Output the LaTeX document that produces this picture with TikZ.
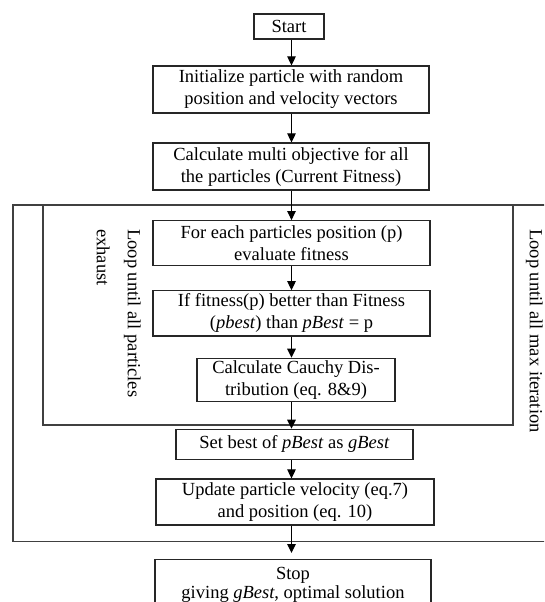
\documentclass[tikz,border=0pt]{standalone}
\usepackage{fontspec}
\setmainfont{Liberation Serif}
\usetikzlibrary{arrows.meta}
\tikzset{
  box/.style={draw=black!85, line width=1.2pt, align=center, inner sep=0pt, font=\fontsize{18.5}{22}\selectfont},
  arr/.style={draw=black, line width=1.1pt, -{Triangle[length=9pt,width=8.5pt]}},
  frame/.style={draw=black!75, line width=1.1pt},
  looplbl/.style={rotate=-90, inner sep=0pt, align=left, font=\fontsize{18.5}{31}\selectfont}
}
\begin{document}
\begin{tikzpicture}[x=1pt,y=-1pt]
\useasboundingbox (0,0) rectangle (544,602);
\clip (0,0) rectangle (544,602);
\coordinate (axis) at (291.5,0);
% loop frames
\draw[frame] (13,205) rectangle (570,541.7);
\draw[frame] (43,205) rectangle (513,425);
% boxes
\node[box, minimum width=70pt, minimum height=25pt] (start) at (289,26.5) {Start};
\node[box, minimum width=276pt, minimum height=47pt] (init) at (291,89.5) {Initialize particle with random\\position and velocity vectors};
\node[box, minimum width=276pt, minimum height=47pt] (calc) at (291,166.5) {Calculate multi objective for all\\the particles (Current Fitness)};
\node[box, minimum width=277pt, minimum height=45pt] (each) at (291.5,243.2) {For each particles position (p)\\evaluate fitness};
\node[box, minimum width=277pt, minimum height=45.3pt] (iff) at (291.5,313.4) {If fitness(p) better than Fitness\\(\textit{pbest}) than \textit{pBest} = p};
\node[box, minimum width=198pt, minimum height=43.4pt] (cauchy) at (296,380) {Calculate Cauchy Dis-\\tribution (eq. 8\&9)};
\node[box, minimum width=237pt, minimum height=30pt] (setb) at (294.5,444.3) {Set best of \textit{pBest} as \textit{gBest}};
\node[box, minimum width=278pt, minimum height=46pt] (upd) at (295,502) {Update particle velocity (eq.7)\\and position (eq. 10)};
\node[box, font=\fontsize{18.5}{19}\selectfont, minimum width=276pt, minimum height=50pt, anchor=north] (stop) at (293,559) {Stop\\giving \textit{gBest}, optimal solution};
% loop labels
\node[looplbl, anchor=north west] (lin) at (141,229) {Loop until all particles\\exhaust};
\node[looplbl, anchor=north west] (lout) at (543,229) {Loop until all max iteration};
% arrows
\draw[arr] (axis |- start.south) -- (axis |- init.north);
\draw[arr] (axis |- init.south) -- (axis |- calc.north);
\draw[arr] (axis |- calc.south) -- (axis |- each.north);
\draw[arr] (axis |- each.south) -- (axis |- iff.north);
\draw[arr] (axis |- iff.south) -- (axis |- cauchy.north);
\draw[arr] (axis |- cauchy.south) -- (axis |- setb.north);
\draw[arr] (axis |- setb.south) -- (axis |- upd.north);
\draw[arr, shorten >=6pt] (axis |- upd.south) -- (axis |- stop.north);
\end{tikzpicture}
\end{document}
